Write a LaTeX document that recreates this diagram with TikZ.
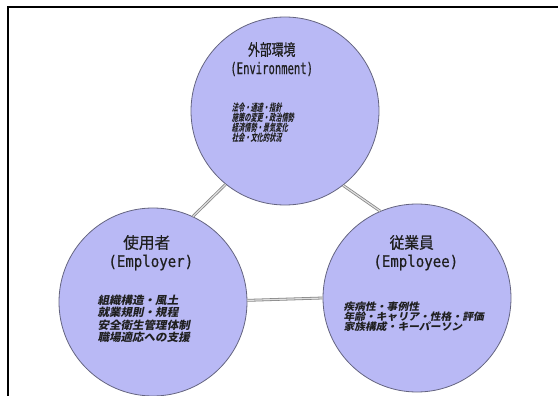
\documentclass[tikz,border=0pt]{standalone}
\usepackage{fontspec}
\newfontfamily\ttlTop[FakeStretch=0.74,FakeBold=0.6]{Noto Sans CJK JP}
\newfontfamily\ttlLeft[FakeStretch=0.98,FakeBold=0.6]{Noto Sans CJK JP}
\newfontfamily\ttlRight[FakeStretch=0.92,FakeBold=0.6]{Noto Sans CJK JP}
\newfontfamily\latTop[FakeStretch=0.66,FakeBold=0.5]{DejaVu Sans Mono}
\newfontfamily\latSide[FakeStretch=0.88,FakeBold=0.5]{DejaVu Sans Mono}
\newfontfamily\smTop[FakeStretch=0.62,FakeSlant=0.2]{Noto Sans CJK JP}
\newfontfamily\smLeft[FakeStretch=1.05,FakeSlant=0.2]{Noto Sans CJK JP}
\newfontfamily\smRight[FakeStretch=1.08,FakeSlant=0.2]{Noto Sans CJK JP}
\definecolor{circfill}{RGB}{185,185,245}
\definecolor{circline}{RGB}{100,100,128}
\definecolor{linkgray}{RGB}{135,135,135}
\tikzset{
  bubble/.style={circle, minimum size=188pt, inner sep=0pt, fill=circfill, draw=circline, line width=0.8pt},
  link/.style={draw=linkgray, line width=0.8pt, double=gray!25, double distance=1.2pt},
  ttl/.style={inner sep=0pt, anchor=center, text=black!88},
  body/.style={inner sep=0pt, anchor=north west, align=left, text=black!88}
}
\begin{document}
\begin{tikzpicture}[x=1pt,y=-1pt]
\useasboundingbox (0,0) rectangle (558,396);
\fill[white] (0,0) rectangle (558,396);
\draw[line width=2pt] (558,7) -- (7.7,7) -- (7.7,396);

\node[bubble] (env) at (285,111) {};
\node[bubble] (emp) at (153,302) {};
\node[bubble] (ee)  at (417,298) {};

\draw[link] (env.231.8) -- (emp.65.3);
\draw[link] (env.308.6) -- (ee.113.8);
\draw[link] (emp.1.5) -- (ee.180.9);

\node[ttl, font=\fontsize{16}{16}\ttlTop] (envT) at (271.7,49.5) {外部環境};
\node[ttl, font=\fontsize{16}{16}\latTop] (envE) at (271.7,69) {(Environment)};
\node[body, font=\fontsize{10}{10}\smTop\bfseries] (envB) at (231.7,102.8) {法令・通達・指針\\施策の変更・政治情勢\\経済情勢・景気変化\\社会・文化的状況};

\node[ttl, font=\fontsize{16}{16}\ttlLeft] (empT) at (146.7,242.5) {使用者};
\node[ttl, font=\fontsize{16}{16}\latSide] (empE) at (150.8,262.5) {(Employer)};
\node[body, font=\fontsize{11}{12.2}\smLeft\bfseries] (empB) at (97.3,295) {組織構造・風土\\就業規則・規程\\安全衛生管理体制\\職場適応への支援};

\node[ttl, font=\fontsize{16}{16}\ttlRight] (eeT) at (411.7,242.5) {従業員};
\node[ttl, font=\fontsize{16}{16}\latSide] (eeE) at (415.8,262.5) {(Employee)};
\node[body, font=\fontsize{10}{10}\smRight\bfseries] (eeB) at (343.3,302) {疾病性・事例性\\年齢・キャリア・性格・評価\\家族構成・キーパーソン};
\end{tikzpicture}
\end{document}
